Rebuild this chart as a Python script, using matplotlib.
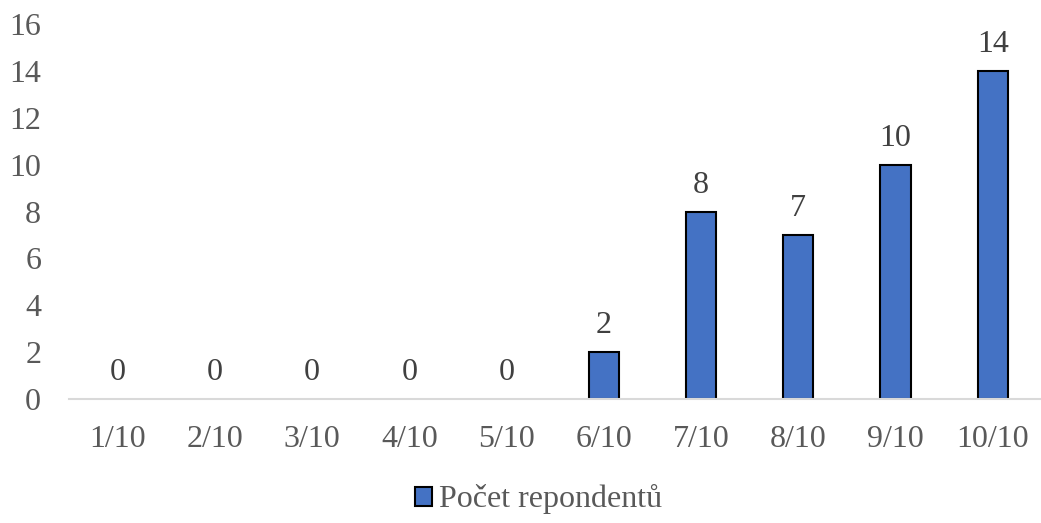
import matplotlib
matplotlib.use("Agg")
import matplotlib.pyplot as plt

# data
categories = ["1/10", "2/10", "3/10", "4/10", "5/10", "6/10", "7/10", "8/10", "9/10", "10/10"]
counts = [0, 0, 0, 0, 0, 2, 8, 7, 10, 14]
series_name = "Počet repondentů"

plt.rcParams['font.family'] = ['Liberation Serif', 'DejaVu Serif']
text_color = "#595959"
fs = 23

fig = plt.figure(figsize=(10.41, 5.23), dpi=100)
ax = fig.add_axes([0.0663, 0.237, 0.934, 0.717])

x = range(len(categories))
# zero-height bars get no outline so nothing shows on the baseline
edge_widths = [1.5 if v > 0 else 0 for v in counts]
bars = ax.bar(x, counts, width=0.31, color="#4472C4", edgecolor="black",
              linewidth=edge_widths, label=series_name)

for xi, v in zip(x, counts):
    ax.text(xi, v + 0.5, str(v), ha="center", va="bottom",
            fontsize=fs, color="#404040")

ax.set_xlim(-0.5, len(categories) - 0.5)
ax.set_ylim(0, 16)
ax.set_yticks(range(0, 17, 2))
ax.set_xticks(list(x))
ax.set_xticklabels(categories)
ax.tick_params(axis="both", length=0, labelsize=fs, colors=text_color)
ax.tick_params(axis="x", pad=19)
ax.tick_params(axis="y", pad=20)

for side in ["top", "right", "left"]:
    ax.spines[side].set_visible(False)
ax.spines["bottom"].set_color("#D9D9D9")
ax.spines["bottom"].set_linewidth(1.5)

leg = fig.legend(handles=[bars], labels=[series_name], loc="center",
                 bbox_to_anchor=(0.517, 0.045), frameon=False,
                 fontsize=fs, handlelength=0.55, handleheight=0.55,
                 handletextpad=0.2)
leg.legend_handles[0].set_linewidth(1.5)
for t in leg.get_texts():
    t.set_color(text_color)

fig.savefig("out.png", dpi=100)
